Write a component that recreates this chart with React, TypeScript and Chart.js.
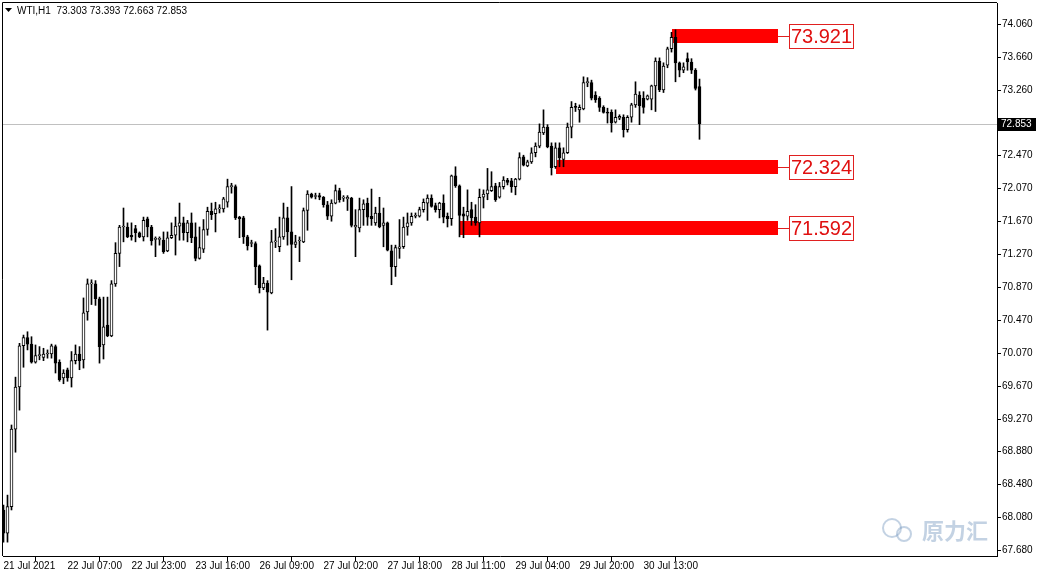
import { useEffect, useRef } from "react";
import { Chart, registerables } from "chart.js";

Chart.register(...registerables);

const opens = [
  68.17, 67.89, 68.21, 69.15, 69.66, 70.16, 70.26, 70.18, 69.96, 70.04,
  70.02, 70.06, 70.06, 70.15, 69.96, 69.77, 69.87, 69.77, 69.98, 70.06,
  69.99, 70.57, 70.91, 70.91, 70.73, 70.17, 70.41, 70.28, 70.91, 71.28,
  71.60, 71.60, 71.50, 71.58, 71.53, 71.48, 71.70, 71.60, 71.45, 71.45,
  71.44, 71.31, 71.47, 71.50, 71.61, 71.65, 71.53, 71.65, 71.48, 71.22,
  71.33, 71.57, 71.79, 71.76, 71.82, 71.82, 71.90, 72.09, 72.09, 71.72,
  71.71, 71.48, 71.40, 71.40, 71.13, 70.86, 70.92, 70.80, 71.42, 71.36,
  71.48, 71.71, 71.54, 71.39, 71.43, 71.42, 71.80, 72.00, 71.97, 71.98,
  71.96, 71.87, 71.73, 71.89, 72.04, 71.95, 71.94, 71.95, 71.60, 71.59,
  71.81, 71.89, 71.73, 71.65, 71.77, 71.62, 71.65, 71.31, 71.12, 71.34,
  71.36, 71.60, 71.65, 71.73, 71.73, 71.81, 71.89, 71.95, 71.86, 71.81,
  71.89, 71.73, 71.70, 72.22, 72.10, 71.76, 71.73, 71.81, 71.72, 71.65,
  71.96, 72.00, 72.04, 72.10, 71.96, 72.09, 72.17, 72.16, 72.09, 72.18,
  72.45, 72.34, 72.39, 72.50, 72.58, 72.74, 72.81, 72.58, 72.33, 72.56,
  72.42, 72.50, 72.81, 73.06, 73.02, 73.03, 73.35, 73.35, 73.20, 73.16,
  73.05, 72.99, 72.99, 72.87, 72.92, 72.93, 72.78, 72.93, 73.08, 73.20,
  73.16, 73.15, 73.15, 73.31, 73.61, 73.26, 73.56, 73.76, 73.90, 73.59,
  73.50, 73.64, 73.60, 73.50, 73.303,
];
const highs = [
  68.23, 68.35, 69.20, 69.78, 70.19, 70.29, 70.33, 70.27, 70.17, 70.15,
  70.13, 70.11, 70.18, 70.17, 69.99, 69.87, 69.89, 70.09, 70.17, 70.15,
  70.74, 70.97, 70.96, 70.95, 70.75, 70.75, 70.75, 70.95, 71.41, 71.62,
  71.83, 71.65, 71.65, 71.62, 71.54, 71.72, 71.72, 71.62, 71.48, 71.48,
  71.54, 71.54, 71.65, 71.72, 71.89, 71.72, 71.68, 71.77, 71.65, 71.60,
  71.69, 71.84, 71.89, 71.90, 71.87, 71.96, 72.18, 72.13, 72.11, 71.73,
  71.73, 71.50, 71.44, 71.42, 71.14, 70.99, 70.95, 71.56, 71.58, 71.72,
  71.89, 71.84, 72.09, 71.50, 71.48, 71.83, 72.04, 72.01, 72.01, 72.01,
  71.97, 71.91, 71.93, 72.11, 72.07, 71.98, 71.98, 71.96, 71.81, 71.95,
  71.93, 71.95, 72.06, 71.84, 71.96, 71.83, 71.66, 71.38, 71.38, 71.69,
  71.72, 71.77, 71.77, 71.77, 71.84, 71.94, 71.99, 71.99, 71.89, 71.90,
  71.99, 71.77, 72.23, 72.33, 72.11, 71.84, 72.05, 71.90, 71.87, 72.06,
  72.05, 72.31, 72.27, 72.13, 72.14, 72.21, 72.19, 72.19, 72.19, 72.50,
  72.47, 72.41, 72.56, 72.62, 72.85, 73.02, 72.84, 72.62, 72.62, 72.62,
  72.56, 72.86, 73.12, 73.10, 73.08, 73.42, 73.41, 73.38, 73.24, 73.18,
  73.07, 73.04, 73.02, 73.02, 72.96, 72.96, 72.95, 73.10, 73.36, 73.24,
  73.24, 73.20, 73.32, 73.65, 73.65, 73.59, 73.78, 73.96, 73.99, 73.60,
  73.59, 73.71, 73.64, 73.52, 73.393,
];
const lows = [
  67.78, 67.78, 68.17, 68.87, 69.38, 69.90, 70.11, 69.95, 69.95, 69.99,
  69.98, 70.01, 70.01, 69.83, 69.73, 69.70, 69.73, 69.66, 69.94, 69.87,
  69.89, 70.47, 70.66, 70.65, 69.95, 70.00, 70.27, 70.27, 70.88, 71.12,
  71.42, 71.47, 71.44, 71.42, 71.47, 71.43, 71.48, 71.38, 71.24, 71.38,
  71.28, 71.30, 71.46, 71.26, 71.44, 71.44, 71.42, 71.41, 71.19, 71.21,
  71.29, 71.50, 71.69, 71.54, 71.77, 71.78, 71.84, 72.01, 71.69, 71.47,
  71.40, 71.32, 71.36, 70.90, 70.80, 70.84, 70.35, 70.79, 71.35, 71.30,
  71.45, 71.38, 70.96, 71.35, 71.18, 71.41, 71.56, 71.95, 71.94, 71.93,
  71.84, 71.69, 71.67, 71.88, 71.90, 71.91, 71.80, 71.60, 71.24, 71.54,
  71.62, 71.62, 71.62, 71.62, 71.59, 71.36, 71.31, 70.90, 71.00, 71.22,
  71.34, 71.50, 71.62, 71.71, 71.72, 71.78, 71.68, 71.84, 71.78, 71.71,
  71.65, 71.60, 71.62, 72.08, 71.48, 71.47, 71.68, 71.62, 71.62, 71.48,
  71.83, 71.93, 72.03, 71.91, 71.95, 72.06, 72.11, 72.02, 71.99, 72.17,
  72.34, 72.33, 72.37, 72.45, 72.56, 72.72, 72.56, 72.23, 72.31, 72.33,
  72.33, 72.49, 72.68, 73.00, 72.87, 73.02, 73.30, 73.14, 73.11, 73.00,
  72.98, 72.86, 72.75, 72.86, 72.90, 72.69, 72.75, 72.87, 73.05, 72.84,
  72.98, 73.14, 73.02, 73.00, 73.24, 73.23, 73.53, 73.72, 73.36, 73.42,
  73.47, 73.50, 73.46, 73.26, 72.663,
];
const closes = [
  67.89, 68.21, 69.15, 69.66, 70.16, 70.26, 70.18, 69.96, 70.04, 70.04,
  70.06, 70.06, 70.16, 69.95, 69.75, 69.83, 69.77, 69.98, 70.06, 69.98,
  70.56, 70.91, 70.91, 70.73, 70.15, 70.39, 70.28, 70.91, 71.28, 71.60,
  71.61, 71.48, 71.48, 71.53, 71.48, 71.68, 71.60, 71.43, 71.45, 71.45,
  71.30, 71.47, 71.50, 71.61, 71.65, 71.53, 71.65, 71.47, 71.22, 71.35,
  71.57, 71.79, 71.75, 71.82, 71.82, 71.94, 72.09, 72.09, 71.71, 71.70,
  71.48, 71.37, 71.40, 71.12, 70.86, 70.92, 70.81, 71.42, 71.43, 71.48,
  71.71, 71.54, 71.39, 71.42, 71.43, 71.80, 72.00, 71.96, 71.97, 71.96,
  71.87, 71.73, 71.89, 72.04, 71.93, 71.95, 71.96, 71.62, 71.62, 71.81,
  71.88, 71.72, 71.70, 71.77, 71.60, 71.65, 71.32, 71.12, 71.35, 71.36,
  71.60, 71.65, 71.73, 71.73, 71.81, 71.90, 71.95, 71.85, 71.81, 71.89,
  71.72, 71.70, 72.22, 72.10, 71.74, 71.73, 71.79, 71.71, 71.65, 71.96,
  72.00, 72.05, 72.09, 71.93, 72.09, 72.17, 72.14, 72.09, 72.18, 72.44,
  72.35, 72.39, 72.50, 72.58, 72.75, 72.81, 72.57, 72.32, 72.56, 72.44,
  72.50, 72.81, 73.05, 73.05, 73.05, 73.35, 73.35, 73.16, 73.14, 73.05,
  72.99, 72.98, 72.86, 72.93, 72.94, 72.78, 72.93, 73.08, 73.21, 73.07,
  73.05, 73.19, 73.31, 73.61, 73.26, 73.55, 73.76, 73.90, 73.59, 73.50,
  73.54, 73.60, 73.50, 73.28, 72.853,
];

const xTickBars = [0, 16, 32, 48, 64, 80, 96, 112, 128, 144, 160];
const xTickLabels = [
  "21 Jul 2021", "22 Jul 07:00", "22 Jul 23:00", "23 Jul 16:00", "26 Jul 09:00",
  "27 Jul 02:00", "27 Jul 18:00", "28 Jul 11:00", "29 Jul 04:00", "29 Jul 20:00",
  "30 Jul 13:00",
];
const yTickValues = [
  74.06, 73.66, 73.26, 72.47, 72.07, 71.67, 71.27, 70.87, 70.47, 70.07,
  69.67, 69.27, 68.88, 68.48, 68.08, 67.68,
];
const levelPrices = [73.921, 72.324, 71.592];
const levelStartBars = [167, 138, 114];
const levelEndBar = 193.6;
const symbolTitle = "WTI,H1  73.303 73.393 72.663 72.853";
const watermarkText = "原力汇";

const FONT = "'Liberation Sans', Arial, sans-serif";

export default function App() {
  const canvasRef = useRef<HTMLCanvasElement | null>(null);

  useEffect(() => {
    const canvas = canvasRef.current;
    if (!canvas) return;

    const bodies = opens.map((o, i) => ({
      x: i,
      y: [Math.min(o, closes[i]), Math.max(o, closes[i])],
    }));
    const wicks = highs.map((h, i) => ({ x: i, y: [lows[i], h] }));
    const bodyColors = opens.map((o, i) => (closes[i] >= o ? "#ffffff" : "#000000"));
    const lastClose = closes[closes.length - 1];

    const overlay = {
      id: "overlay",
      beforeDatasetsDraw(chart: any) {
        const { ctx, chartArea } = chart;
        const xs = chart.scales.x;
        const ys = chart.scales.y;
        ctx.save();
        const py = Math.round(ys.getPixelForValue(lastClose)) + 0.5;
        ctx.strokeStyle = "#c0c0c0";
        ctx.lineWidth = 1;
        ctx.beginPath();
        ctx.moveTo(chartArea.left, py);
        ctx.lineTo(chartArea.right, py);
        ctx.stroke();
        levelPrices.forEach((p, k) => {
          const yy = Math.round(ys.getPixelForValue(p));
          const x0 = Math.round(xs.getPixelForValue(levelStartBars[k]));
          const x1 = Math.round(xs.getPixelForValue(levelEndBar));
          ctx.fillStyle = "#ff0000";
          ctx.fillRect(x0, yy - 7, x1 - x0, 14);
        });
        ctx.restore();
      },
      afterDatasetsDraw(chart: any) {
        const { ctx } = chart;
        const xs = chart.scales.x;
        const ys = chart.scales.y;
        ctx.save();
        levelPrices.forEach((p) => {
          const yy = Math.round(ys.getPixelForValue(p));
          const x1 = Math.round(xs.getPixelForValue(levelEndBar));
          const bx = x1 + 11;
          ctx.strokeStyle = "#e02020";
          ctx.lineWidth = 1;
          ctx.beginPath();
          ctx.moveTo(x1, yy + 0.5);
          ctx.lineTo(bx, yy + 0.5);
          ctx.stroke();
          ctx.fillStyle = "#ffffff";
          ctx.fillRect(bx, yy - 12, 64, 24);
          ctx.strokeRect(bx + 0.5, yy - 11.5, 64, 24);
          ctx.fillStyle = "#e01010";
          ctx.font = `20px ${FONT}`;
          ctx.textAlign = "center";
          ctx.textBaseline = "middle";
          ctx.fillText(p.toFixed(3), bx + 32.5, yy + 1);
        });
        // watermark
        ctx.globalAlpha = 0.45;
        ctx.strokeStyle = "#7a9cc0";
        ctx.lineWidth = 2;
        ctx.beginPath();
        ctx.arc(892, 528, 9, 0, Math.PI * 2);
        ctx.stroke();
        ctx.beginPath();
        ctx.arc(904, 534, 7, 0, Math.PI * 2);
        ctx.stroke();
        ctx.fillStyle = "#7a9cc0";
        ctx.font = `bold 22px 'Noto Sans CJK SC', sans-serif`;
        ctx.textAlign = "left";
        ctx.textBaseline = "middle";
        ctx.fillText(watermarkText, 922, 531);
        ctx.globalAlpha = 1;
        // title
        ctx.fillStyle = "#000000";
        ctx.beginPath();
        ctx.moveTo(5, 8);
        ctx.lineTo(12, 8);
        ctx.lineTo(8.5, 12);
        ctx.closePath();
        ctx.fill();
        ctx.font = `10px ${FONT}`;
        ctx.textAlign = "left";
        ctx.textBaseline = "middle";
        ctx.fillText(symbolTitle, 17, 11);
        ctx.restore();
      },
      afterDraw(chart: any) {
        const { ctx, chartArea } = chart;
        const ys = chart.scales.y;
        ctx.save();
        ctx.strokeStyle = "#000000";
        ctx.lineWidth = 1;
        ctx.beginPath();
        ctx.moveTo(chartArea.left - 0.5, chartArea.bottom);
        ctx.lineTo(chartArea.left - 0.5, chartArea.top - 0.5);
        ctx.lineTo(chartArea.right, chartArea.top - 0.5);
        ctx.stroke();
        const py = Math.round(ys.getPixelForValue(lastClose));
        ctx.fillStyle = "#000000";
        ctx.fillRect(chartArea.right + 1, py - 6, 38, 13);
        ctx.fillStyle = "#ffffff";
        ctx.font = `10px ${FONT}`;
        ctx.textAlign = "left";
        ctx.textBaseline = "middle";
        ctx.fillText(lastClose.toFixed(3), chartArea.right + 4, py + 0.5);
        ctx.restore();
      },
    };

    const chart = new Chart(canvas, {
      type: "bar",
      data: {
        datasets: [
          {
            label: "body",
            data: bodies as any,
            backgroundColor: bodyColors,
            borderColor: "#000000",
            borderWidth: 1,
            borderSkipped: false,
            barThickness: 3,
            minBarLength: 1,
            grouped: false,
          } as any,
          {
            label: "wick",
            data: wicks as any,
            backgroundColor: "#000000",
            borderWidth: 0,
            barThickness: 1,
            grouped: false,
          } as any,
        ],
      },
      options: {
        responsive: false,
        animation: false,
        devicePixelRatio: 1,
        layout: { padding: { left: 3, top: 3, right: 0, bottom: 0 } },
        plugins: {
          legend: { display: false },
          tooltip: { enabled: false },
          title: { display: false },
        },
        scales: {
          x: {
            type: "linear",
            offset: false,
            min: -0.125,
            max: -0.125 + 994 / 4,
            afterBuildTicks: (scale: any) => {
              scale.ticks = xTickBars.map((v) => ({ value: v }));
            },
            afterFit: (scale: any) => {
              scale.height = 20;
              scale.paddingLeft = 0;
              scale.paddingRight = 0;
            },
            grid: {
              drawOnChartArea: false,
              drawTicks: true,
              tickLength: 5,
              color: "#000000",
            },
            border: { display: true, color: "#000000", width: 1 },
            ticks: {
              autoSkip: false,
              maxRotation: 0,
              minRotation: 0,
              align: "start",
              padding: -1,
              color: "#000000",
              font: { family: FONT, size: 10 },
              callback: (_v: any, i: number) => xTickLabels[i],
            },
          },
          y: {
            type: "linear",
            position: "right",
            min: 67.612,
            max: 74.315,
            afterBuildTicks: (scale: any) => {
              scale.ticks = yTickValues.map((v) => ({ value: v }));
            },
            afterFit: (scale: any) => {
              scale.width = 41;
              scale.paddingTop = 0;
              scale.paddingBottom = 0;
            },
            grid: {
              drawOnChartArea: false,
              drawTicks: true,
              tickLength: 4,
              color: "#000000",
            },
            border: { display: true, color: "#000000", width: 1 },
            ticks: {
              autoSkip: false,
              padding: 1,
              color: "#000000",
              font: { family: FONT, size: 10 },
              callback: (v: any) => Number(v).toFixed(3),
            },
          },
        },
      },
      plugins: [overlay],
    });

    return () => {
      chart.destroy();
    };
  }, []);

  return (
    <div style={{ position: "fixed", left: 0, top: 0, width: 1038, height: 576, background: "#ffffff" }}>
      <canvas ref={canvasRef} width={1038} height={576} style={{ display: "block" }} />
    </div>
  );
}
